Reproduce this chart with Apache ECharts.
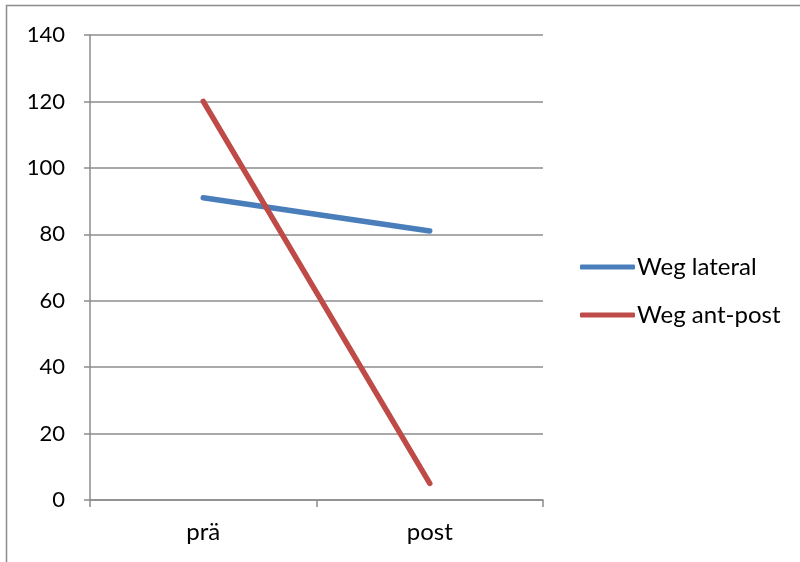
<!DOCTYPE html>
<html>
<head>
<meta charset="utf-8">
<script src="https://cdn.jsdelivr.net/npm/echarts@6/dist/echarts.min.js"></script>
<style>
  html, body { margin: 0; padding: 0; background: #fff; }
  #chart { width: 800px; height: 562px; }
</style>
</head>
<body>
<div id="chart"></div>
<script>
// Categories and measured values
const categories = ['prä', 'post'];
const wegLateral = [91, 81];
const wegAntPost = [120, 5];
const seriesNames = ['Weg lateral', 'Weg ant-post'];
const yTicks = { min: 0, max: 140, interval: 20 };

const FONT = 'Lato, "Open Sans", sans-serif';
const chart = echarts.init(document.getElementById('chart'));

chart.setOption({
  animation: false,
  backgroundColor: '#fff',
  graphic: [{
    type: 'rect',
    shape: { x: 6.5, y: 5.5, width: 900, height: 700 },
    style: { fill: 'none', stroke: '#8c8c8c', lineWidth: 1.5 },
    silent: true
  }],
  grid: { left: 90, top: 35, width: 453, height: 465 },
  legend: {
    orient: 'vertical',
    left: 575,
    top: 250,
    itemWidth: 55,
    itemHeight: 5,
    itemGap: 24,
    icon: 'roundRect',
    textStyle: { fontFamily: FONT, fontSize: 24, lineHeight: 24, color: '#000', padding: [0, 0, 0, -3] },
    data: seriesNames
  },
  xAxis: {
    type: 'category',
    data: categories,
    boundaryGap: true,
    axisLine: { lineStyle: { color: '#8c8c8c', width: 1.5 } },
    axisTick: { show: true, length: 7, lineStyle: { color: '#8c8c8c', width: 1.5 } },
    axisLabel: { fontFamily: FONT, fontSize: 24, color: '#000', margin: 20 }
  },
  yAxis: {
    type: 'value',
    min: yTicks.min,
    max: yTicks.max,
    interval: yTicks.interval,
    axisLine: { show: true, lineStyle: { color: '#8c8c8c', width: 1.5 } },
    axisTick: { show: true, length: 6, lineStyle: { color: '#8c8c8c', width: 1.5 } },
    splitLine: { lineStyle: { color: '#8c8c8c', width: 1.5 } },
    axisLabel: { fontFamily: FONT, fontSize: 22, color: '#000', margin: 25 }
  },
  series: [
    {
      name: seriesNames[0],
      type: 'line',
      data: wegLateral,
      symbol: 'none',
      color: '#4A7EBB',
      lineStyle: { width: 5.5, cap: 'round' }
    },
    {
      name: seriesNames[1],
      type: 'line',
      data: wegAntPost,
      symbol: 'none',
      color: '#BE4B48',
      lineStyle: { width: 5.5, cap: 'round' }
    }
  ]
});
</script>
</body>
</html>
